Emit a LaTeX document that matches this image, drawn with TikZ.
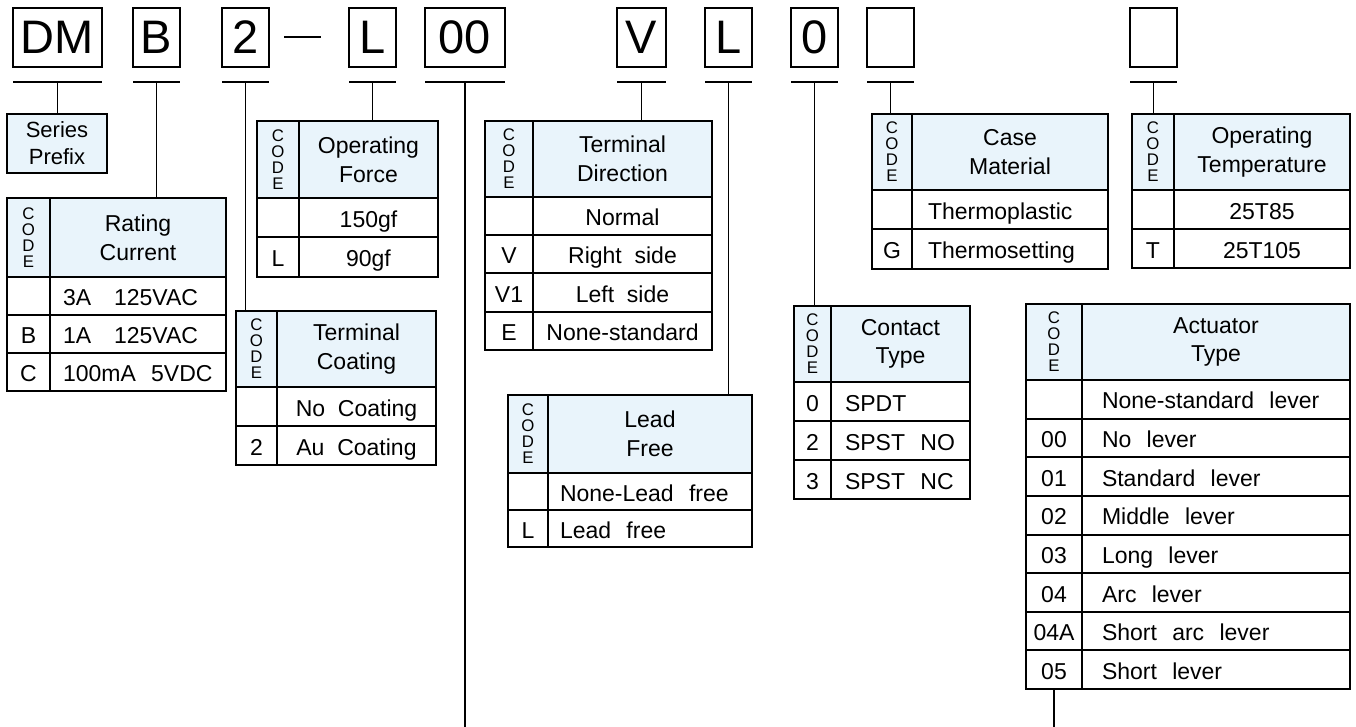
\documentclass[tikz,border=0pt]{standalone}
\usepackage{fontspec}
\setmainfont{Liberation Sans}
\usepackage{tikz}
\usetikzlibrary{positioning}
\definecolor{headblue}{RGB}{233,244,251}
\newcommand{\tabfont}{\fontsize{11.5}{14.3}\selectfont}
\newcommand{\codefont}{\fontsize{8.4}{8}\selectfont}

\begin{document}
\begin{tikzpicture}[
    x=0.5pt, y=-0.5pt,
    letterbox/.style={rectangle, draw, line width=0.7pt, outer sep=0pt, inner sep=0pt, minimum width=23.5pt, minimum height=29.5pt, anchor=north west, font=\fontsize{23.5}{28}\selectfont},
    uline/.style={line width=0.7pt},
    link/.style={line width=0.7pt},
    codehead/.style={rectangle, draw, line width=1pt, fill=headblue, outer sep=0pt, inner sep=0pt, anchor=north west, align=center, font=\codefont},
    titlehead/.style={rectangle, draw, line width=1pt, fill=headblue, outer sep=0pt, inner sep=0pt, anchor=north west, align=center, font=\tabfont},
    cell/.style={rectangle, draw, line width=1pt, outer sep=0pt, inner sep=0pt, text height=10pt, text depth=0.4pt, anchor=north west, align=center, font=\tabfont}
]
\useasboundingbox (0,0) rectangle (1356,727);
\coordinate (bottom) at (0,727);

% Part number boxes
\node[letterbox, minimum width=44.5pt] (dmbox) at (13,8) {DM};
\node[letterbox] (ratebox) at (133,8) {B};
\node[letterbox] (coatbox) at (222,8) {2};
\node[letterbox] (forcebox) at (349,8) {L};
\node[letterbox, minimum width=40pt] (actbox) at (425,8) {00};
\node[letterbox, minimum width=24.5pt] (dirbox) at (617,8) {V};
\node[letterbox] (leadbox) at (705,8) {L};
\node[letterbox] (contbox) at (791,8) {0};
\node[letterbox] (casebox) at (867,8) {};
\node[letterbox] (tempbox) at (1130,8) {};
\draw[uline] (284,37) -- (321,37);

\foreach \b in {dmbox,ratebox,coatbox,forcebox,actbox,dirbox,leadbox,contbox,casebox,tempbox} {
    \draw[uline] ([yshift=-7.5pt]\b.south west) -- ([yshift=-7.5pt]\b.south east);
    \coordinate (\b-u) at ([yshift=-7.5pt]\b.south);
}

% Series prefix
\node[titlehead, minimum width=50pt, minimum height=29.5pt, font=\fontsize{11}{13.5}\selectfont] (series) at (7,114) {Series\\Prefix};

% Rating current
\node[codehead, minimum width=21.5pt, minimum height=39.5pt] (rating-code) at (7,198) {C\\O\\D\\E};
\node[titlehead, minimum width=88pt, minimum height=39.5pt] (rating) at (50,198) {Rating\\Current};
\foreach \c/\t [count=\i] in {{}/3A~~~125VAC,B/1A~~~125VAC,C/100mA~~5VDC} {
    \node[cell, minimum width=21.5pt, minimum height=19pt] (rating-c\i) at (7,{277+38*(\i-1)}) {\c};
    \node[cell, minimum height=19pt, text width=75pt, inner xsep=6.5pt, align=left] (rating-t\i) at (50,{277+38*(\i-1)}) {\t};
}

% Operating force
\node[codehead, minimum width=21pt, minimum height=38.5pt] (force-code) at (257,121) {C\\O\\D\\E};
\node[titlehead, minimum width=69.5pt, minimum height=38.5pt] (force) at (299,121) {Operating\\Force};
\foreach \c/\t [count=\i] in {{}/150gf,L/90gf} {
    \node[cell, minimum width=21pt, minimum height=19.75pt] (force-c\i) at (257,{198+39.5*(\i-1)}) {\c};
    \node[cell, minimum width=69.5pt, minimum height=19.75pt] (force-t\i) at (299,{198+39.5*(\i-1)}) {\t};
}

% Terminal coating
\node[codehead, minimum width=20.5pt, minimum height=38pt] (coating-code) at (236,311) {C\\O\\D\\E};
\node[titlehead, minimum width=79.5pt, minimum height=38pt] (coating) at (277,311) {Terminal\\Coating};
\foreach \c/\t [count=\i] in {{}/No~~Coating,2/Au~~Coating} {
    \node[cell, minimum width=20.5pt, minimum height=19.5pt] (coating-c\i) at (236,{387+39*(\i-1)}) {\c};
    \node[cell, minimum width=79.5pt, minimum height=19.5pt] (coating-t\i) at (277,{387+39*(\i-1)}) {\t};
}

% Terminal direction
\node[codehead, minimum width=24pt, minimum height=38pt] (direction-code) at (485,121) {C\\O\\D\\E};
\node[titlehead, minimum width=89.5pt, minimum height=38pt] (direction) at (533,121) {Terminal\\Direction};
\foreach \c/\t [count=\i] in {{}/Normal,V/Right~~side,V1/Left~~side,E/None-standard} {
    \node[cell, minimum width=24pt, minimum height=19.125pt] (direction-c\i) at (485,{197+38.25*(\i-1)}) {\c};
    \node[cell, minimum width=89.5pt, minimum height=19.125pt] (direction-t\i) at (533,{197+38.25*(\i-1)}) {\t};
}

% Lead free
\node[codehead, minimum width=20pt, minimum height=39pt] (lead-code) at (508,395) {C\\O\\D\\E};
\node[titlehead, minimum width=102pt, minimum height=39pt] (lead) at (548,395) {Lead\\Free};
\foreach \c/\t [count=\i] in {{}/None-Lead~~free,L/Lead~~free} {
    \node[cell, minimum width=20pt, minimum height=18.5pt] (lead-c\i) at (508,{473+37*(\i-1)}) {\c};
    \node[cell, minimum height=18.5pt, text width=90pt, inner xsep=6pt, align=left] (lead-t\i) at (548,{473+37*(\i-1)}) {\t};
}

% Contact type
\node[codehead, minimum width=18.5pt, minimum height=38pt] (contact-code) at (794,306) {C\\O\\D\\E};
\node[titlehead, minimum width=69.5pt, minimum height=38pt] (contact) at (831,306) {Contact\\Type};
\foreach \c/\t [count=\i] in {0/SPDT,2/SPST~~NO,3/SPST~~NC} {
    \node[cell, minimum width=18.5pt, minimum height=19.5pt] (contact-c\i) at (794,{382+39*(\i-1)}) {\c};
    \node[cell, minimum height=19.5pt, text width=55.5pt, inner xsep=7pt, align=left] (contact-t\i) at (831,{382+39*(\i-1)}) {\t};
}

% Case material
\node[codehead, minimum width=20pt, minimum height=38pt] (casemat-code) at (872,114) {C\\O\\D\\E};
\node[titlehead, minimum width=98pt, minimum height=38pt] (casemat) at (912,114) {Case\\Material};
\foreach \c/\t [count=\i] in {{}/Thermoplastic,G/Thermosetting} {
    \node[cell, minimum width=20pt, minimum height=19.75pt] (casemat-c\i) at (872,{190+39.5*(\i-1)}) {\c};
    \node[cell, minimum height=19.75pt, text width=82pt, inner xsep=8pt, align=left] (casemat-t\i) at (912,{190+39.5*(\i-1)}) {\t};
}

% Operating temperature
\node[codehead, minimum width=21pt, minimum height=38pt] (temp-code) at (1132,114) {C\\O\\D\\E};
\node[titlehead, minimum width=88pt, minimum height=38pt] (temp) at (1174,114) {Operating\\Temperature};
\foreach \c/\t [count=\i] in {{}/25T85,T/25T105} {
    \node[cell, minimum width=21pt, minimum height=19.5pt] (temp-c\i) at (1132,{190+39*(\i-1)}) {\c};
    \node[cell, minimum width=88pt, minimum height=19.5pt] (temp-t\i) at (1174,{190+39*(\i-1)}) {\t};
}

% Actuator type
\node[codehead, minimum width=28pt, minimum height=38pt] (actuator-code) at (1026,304) {C\\O\\D\\E};
\node[titlehead, minimum width=134pt, minimum height=38pt] (actuator) at (1082,304) {Actuator\\Type};
\foreach \c/\t [count=\i] in {{}/None-standard~~lever,00/No~~lever,01/Standard~~lever,02/Middle~~lever,03/Long~~lever,04/Arc~~lever,04A/Short~~arc~~lever,05/Short~~lever} {
    \node[cell, minimum width=28pt, minimum height=19.3125pt] (actuator-c\i) at (1026,{380+38.625*(\i-1)}) {\c};
    \node[cell, minimum height=19.3125pt, text width=114pt, inner xsep=10pt, align=left] (actuator-t\i) at (1082,{380+38.625*(\i-1)}) {\t};
}

% Connectors
\draw[link] (dmbox-u) -- (dmbox-u |- series.north);
\draw[link] (ratebox-u) -- (ratebox-u |- rating.north);
\draw[link] (coatbox-u) -- (coatbox-u |- coating.north);
\draw[link] (forcebox-u) -- (forcebox-u |- force.north);
\draw[link] (actbox-u) -- (actbox-u |- bottom);
\draw[link] (dirbox-u) -- (dirbox-u |- direction.north);
\draw[link] (leadbox-u) -- (leadbox-u |- lead.north);
\draw[link] (contbox-u) -- (contbox-u |- contact.north);
\draw[link] (casebox-u) -- (casebox-u |- casemat.north);
\draw[link] (tempbox-u) -- (tempbox-u |- temp.north);
\draw[link] (actuator-c8.south) -- (actuator-c8.south |- bottom);
\end{tikzpicture}
\end{document}
